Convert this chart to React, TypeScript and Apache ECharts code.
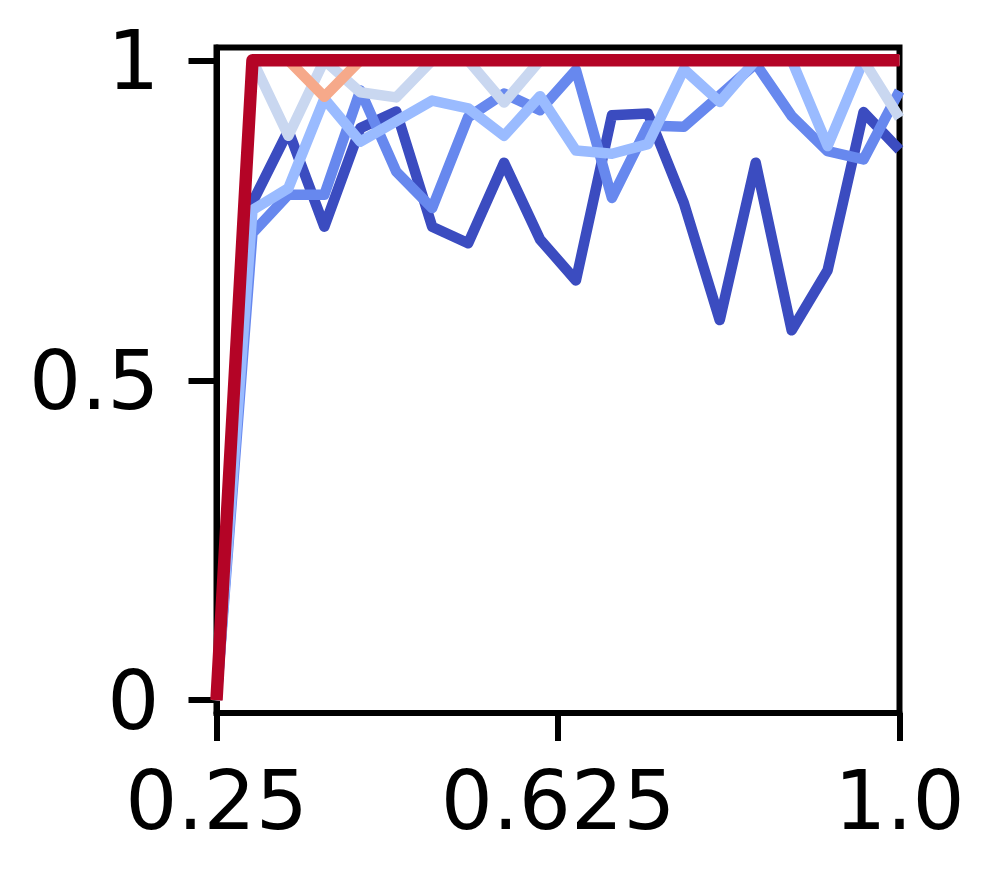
import React, { useEffect, useRef } from "react";
import * as echarts from "echarts";

// x positions of the samples (20 points from 0.25 to 1.0)
const xValues = [
  0.25, 0.2895, 0.3289, 0.3684, 0.4079, 0.4474, 0.4868, 0.5263, 0.5658, 0.6053,
  0.6447, 0.6842, 0.7237, 0.7632, 0.8026, 0.8421, 0.8816, 0.9211, 0.9605, 1.0,
];

const seriesDark = [
  0, 0.778, 0.89, 0.74, 0.894, 0.92, 0.74, 0.714, 0.84, 0.72,
  0.656, 0.914, 0.917, 0.777, 0.594, 0.84, 0.578, 0.672, 0.919, 0.86,
];
const seriesMedium = [
  0, 0.73, 0.79, 0.79, 0.953, 0.826, 0.769, 0.911, 0.948, 0.922,
  0.985, 0.785, 0.898, 0.896, 0.945, 0.995, 0.913, 0.858, 0.845, 0.952,
];
const seriesLight = [
  0, 0.766, 0.8, 0.94, 0.873, 0.905, 0.937, 0.925, 0.882, 0.944,
  0.859, 0.854, 0.869, 0.986, 0.935, 1.0, 1.0, 0.866, 1.0, 1.0,
];
const seriesPale = [
  0, 1.0, 0.882, 1.0, 0.95, 0.942, 1.0, 1.0, 0.934, 1.0,
  1.0, 1.0, 1.0, 1.0, 1.0, 1.0, 1.0, 1.0, 1.0, 0.91,
];
const seriesSalmon = [
  0, 1.0, 1.0, 0.943, 1.0, 1.0, 1.0, 1.0, 1.0, 1.0,
  1.0, 1.0, 1.0, 1.0, 1.0, 1.0, 1.0, 1.0, 1.0, 1.0,
];
const seriesRed = [
  0, 1.0, 1.0, 1.0, 1.0, 1.0, 1.0, 1.0, 1.0, 1.0,
  1.0, 1.0, 1.0, 1.0, 1.0, 1.0, 1.0, 1.0, 1.0, 1.0,
];

const xTicks = [0.25, 0.625, 1.0];
const xTickLabels = ["0.25", "0.625", "1.0"];
const yTicks = [0, 0.5, 1];
const yTickLabels = ["0", "0.5", "1"];

const allSeries = [
  { name: "s1", data: seriesDark, color: "#3b4cc0", width: 10.5 },
  { name: "s2", data: seriesMedium, color: "#6788ee", width: 10.5 },
  { name: "s3", data: seriesLight, color: "#9abbff", width: 10.5 },
  { name: "s4", data: seriesPale, color: "#c9d7f0", width: 10.5 },
  { name: "s5", data: seriesSalmon, color: "#f6a98a", width: 10.5 },
  { name: "s6", data: seriesRed, color: "#b40426", width: 12.5 },
];

const FONT = "DejaVu Sans";
const SPINE = 6;

export default function App() {
  const ref = useRef<HTMLDivElement>(null);
  useEffect(() => {
    if (!ref.current) return;
    const chart = echarts.init(ref.current, null, { renderer: "svg" });
    const labelFor = (vals: number[], labels: string[]) => (v: number) => {
      for (let i = 0; i < vals.length; i++) {
        if (Math.abs(vals[i] - v) < 1e-6) return labels[i];
      }
      return "";
    };
    chart.setOption({
      animation: false,
      backgroundColor: "#ffffff",
      grid: {
        left: 216.5,
        right: 94.5,
        top: 47.5,
        bottom: 166,
        show: true,
        borderColor: "#000",
        borderWidth: SPINE,
        backgroundColor: "transparent",
      },
      xAxis: {
        type: "value",
        min: 0.25,
        max: 1.0,
        splitLine: { show: false },
        axisLine: { show: true, onZero: false, lineStyle: { color: "#000", width: SPINE } },
        axisTick: {
          show: true,
          length: 28,
          customValues: xTicks,
          lineStyle: { color: "#000", width: SPINE },
        },
        axisLabel: {
          customValues: xTicks,
          formatter: labelFor(xTicks, xTickLabels),
          fontSize: 82,
          fontFamily: FONT,
          color: "#000",
          margin: 46,
          showMinLabel: true,
          showMaxLabel: true,
        },
      },
      yAxis: {
        type: "value",
        min: -0.02,
        max: 1.02,
        splitLine: { show: false },
        axisLine: { show: true, onZero: false, lineStyle: { color: "#000", width: SPINE } },
        axisTick: {
          show: true,
          length: 28,
          customValues: yTicks,
          lineStyle: { color: "#000", width: SPINE },
        },
        axisLabel: {
          customValues: yTicks,
          formatter: labelFor(yTicks, yTickLabels),
          fontSize: 82,
          fontFamily: FONT,
          color: "#000",
          margin: 57,
        },
      },
      series: allSeries.map((s) => ({
        type: "line",
        name: s.name,
        data: xValues.map((x, i) => [x, s.data[i]]),
        showSymbol: false,
        symbol: "none",
        clip: true,
        lineStyle: { color: s.color, width: s.width, join: "round", cap: "butt" },
        emphasis: { disabled: true },
      })),
    });
    return () => chart.dispose();
  }, []);
  return (
    <div
      ref={ref}
      style={{ position: "absolute", left: 0, top: 0, width: 994, height: 879 }}
    />
  );
}
